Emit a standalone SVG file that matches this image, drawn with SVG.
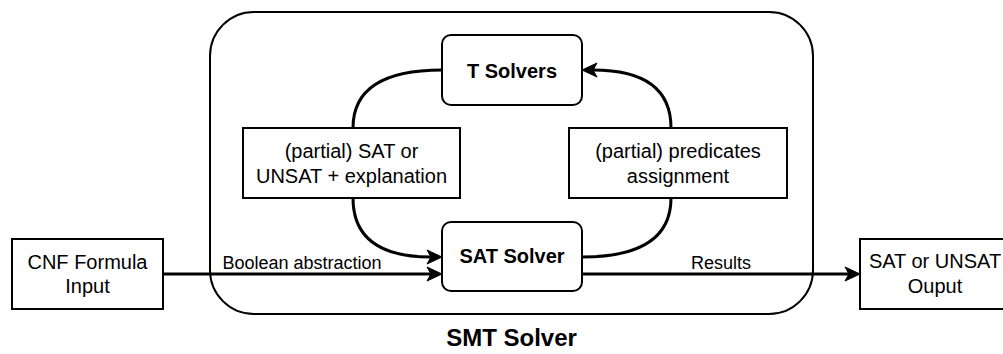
<svg xmlns="http://www.w3.org/2000/svg" width="1003" height="354" viewBox="0 0 1003 354">
  <style>
    .box { fill: #ffffff; stroke: #000000; stroke-width: 2; }
    .lbl { font-family: "Liberation Sans", Arial, sans-serif; font-size: 20px; fill: #000000; text-anchor: middle; }
    .bold { font-weight: bold; }
    .edge { fill: none; stroke: #000000; stroke-width: 3; }
    .elbl { font-family: "Liberation Sans", Arial, sans-serif; font-size: 18px; fill: #000000; text-anchor: middle; }
  </style>
  <defs>
    <marker id="arrow" markerUnits="userSpaceOnUse" viewBox="-5 -8 16 16" refX="0" refY="0" markerWidth="16" markerHeight="16" orient="auto">
      <path d="M11,0 L-4,-7 L0,0 L-4,7 Z" fill="#000000" stroke="#000000" stroke-width="1" stroke-linejoin="miter"/>
    </marker>
  </defs>
  <rect width="1003" height="354" fill="#ffffff"/>

  <g id="smt-solver">
    <rect class="box" x="210" y="12" width="603" height="302" rx="44" ry="44"/>
    <text class="lbl bold" x="511.5" y="346" style="font-size:24px">SMT Solver</text>
  </g>

  <g id="t-solvers">
    <rect class="box" x="442" y="35" width="140" height="70" rx="9" ry="9"/>
    <text class="lbl bold" x="512" y="78">T Solvers</text>
  </g>

  <g id="sat-solver">
    <rect class="box" x="442" y="222" width="140" height="69" rx="9" ry="9"/>
    <text class="lbl bold" x="512" y="263">SAT Solver</text>
  </g>

  <g id="sat-explanation">
    <rect class="box" x="243" y="128" width="217" height="70"/>
    <text class="lbl" x="351.5" y="158">(partial) SAT or</text>
    <text class="lbl" x="351.5" y="183">UNSAT + explanation</text>
  </g>

  <g id="predicates">
    <rect class="box" x="569" y="128" width="218" height="70"/>
    <text class="lbl" x="678" y="158">(partial) predicates</text>
    <text class="lbl" x="678" y="183">assignment</text>
  </g>

  <g id="cnf-input">
    <rect class="box" x="12" y="239" width="151" height="70"/>
    <text class="lbl" x="87.5" y="269">CNF Formula</text>
    <text class="lbl" x="87.5" y="293">Input</text>
  </g>

  <g id="output">
    <rect class="box" x="860" y="239" width="151" height="70"/>
    <text class="lbl" x="935" y="268">SAT or UNSAT</text>
    <text class="lbl" x="935" y="293">Ouput</text>
  </g>

  <g id="connectors">
    <path class="edge" d="M442,70 Q353,70 353,128"/>
    <path class="edge" d="M353,198 Q353,257 431,257" marker-end="url(#arrow)"/>
    <path class="edge" d="M582,257 Q671,257 671,198"/>
    <path class="edge" d="M671,128 Q671,70 593,70" marker-end="url(#arrow)"/>
    <path class="edge" d="M163,274 L431,274" marker-end="url(#arrow)"/>
    <text class="elbl" x="302" y="269">Boolean abstraction</text>
    <path class="edge" d="M582,274 L849,274" marker-end="url(#arrow)"/>
    <text class="elbl" x="721" y="269">Results</text>
  </g>
</svg>
